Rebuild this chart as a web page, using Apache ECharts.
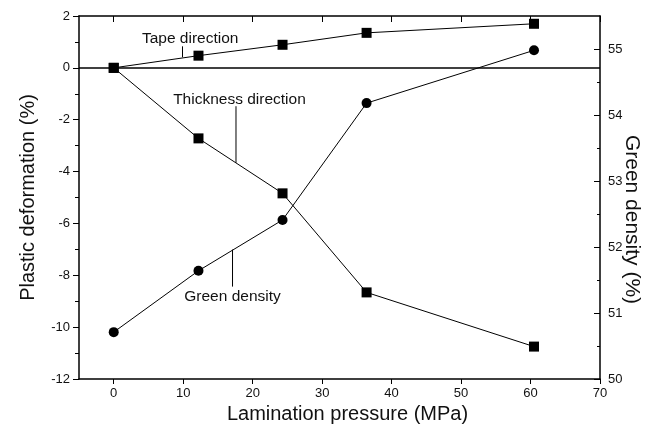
<!DOCTYPE html>
<html><head><meta charset="utf-8">
<script src="https://cdn.jsdelivr.net/npm/echarts@6/dist/echarts.min.js"></script>
<style>html,body{margin:0;padding:0;background:#fff}#c{width:652px;height:435px}</style>
</head><body><div id="c"></div>
<script>
// Data
const pressure = [0, 12.2, 24.3, 36.4, 60.5];
const tapeDirection = [0, 0.47, 0.89, 1.35, 1.7];
const thicknessDirection = [0, -2.72, -4.84, -8.66, -10.75];
const greenDensity = [50.71, 51.64, 52.41, 54.18, 54.98];
const xTicks = [0, 10, 20, 30, 40, 50, 60, 70];
const rightTicks = [50, 51, 52, 53, 54, 55];
const rightMinorTicks = [50.5, 51.5, 52.5, 53.5, 54.5];

const font = 'Liberation Sans, Arial, Helvetica, sans-serif';
const pairs = (ys) => pressure.map((x, i) => [x, ys[i]]);

const chart = echarts.init(document.getElementById('c'), null, {renderer: 'canvas'});
const lineStyleAxis = {color: '#000', width: 1.5};
chart.setOption({
  backgroundColor: '#fff',
  animation: false,
  grid: {left: 79, right: 52, top: 16, bottom: 56, containLabel: false, outerBoundsMode: 'none'},
  xAxis: [{
    type: 'value', min: -5, max: 70, position: 'bottom',
    name: 'Lamination pressure (MPa)', nameLocation: 'middle', nameGap: 24,
    nameTextStyle: {fontFamily: font, fontSize: 20, color: '#111', padding: [0, 0, 0, 16]},
    axisLine: {show: true, onZero: false, lineStyle: lineStyleAxis},
    axisTick: {show: true, inside: false, length: 5, customValues: xTicks, lineStyle: {color: '#000'}},
    axisLabel: {customValues: xTicks, fontFamily: font, fontSize: 13, color: '#111', margin: 8},
    splitLine: {show: false}
  }, {
    type: 'value', min: -5, max: 70, position: 'top',
    axisLine: {show: true, onZero: false, lineStyle: lineStyleAxis},
    axisTick: {show: true, inside: true, length: 6, customValues: xTicks, lineStyle: {color: '#000'}},
    axisLabel: {show: false},
    splitLine: {show: false}
  }],
  yAxis: [{
    type: 'value', min: -12, max: 2, interval: 2, position: 'left',
    name: 'Plastic deformation (%)', nameLocation: 'middle', nameGap: 41,
    nameTextStyle: {fontFamily: font, fontSize: 20, color: '#111'},
    axisLine: {show: true, onZero: false, lineStyle: lineStyleAxis},
    axisTick: {show: true, inside: false, length: 6, lineStyle: {color: '#000'}},
    minorTick: {show: true, splitNumber: 2, length: 4, lineStyle: {color: '#000'}},
    axisLabel: {fontFamily: font, fontSize: 13, color: '#111', margin: 9},
    splitLine: {show: false}, minorSplitLine: {show: false}
  }, {
    type: 'value', min: 50, max: 55.5, position: 'right',
    name: 'Green density (%)', nameLocation: 'middle', nameGap: 21, nameRotate: -90,
    nameMoveOverlap: false,
    nameTextStyle: {fontFamily: font, fontSize: 21, color: '#111', padding: [0, 0, 0, 44]},
    axisLine: {show: true, onZero: false, lineStyle: lineStyleAxis},
    axisTick: {show: true, inside: true, length: 6, customValues: rightTicks, lineStyle: {color: '#000'}},
    axisLabel: {customValues: rightTicks, fontFamily: font, fontSize: 13, color: '#111', margin: 8},
    splitLine: {show: false}
  }, {
    type: 'value', min: 50, max: 55.5, position: 'right',
    axisLine: {show: false, onZero: false},
    axisTick: {show: true, inside: true, length: 3, customValues: rightMinorTicks, lineStyle: {color: '#000'}},
    axisLabel: {show: false},
    splitLine: {show: false}
  }],
  series: [{
    name: 'Tape direction', type: 'line', xAxisIndex: 0, yAxisIndex: 0,
    data: pairs(tapeDirection), symbol: 'rect', symbolSize: 10,
    lineStyle: {color: '#000', width: 1}, itemStyle: {color: '#000'},
    markLine: {silent: true, symbol: 'none', label: {show: false},
      lineStyle: {color: '#000', width: 1.5, type: 'solid'}, data: [{yAxis: 0}]}
  }, {
    name: 'Thickness direction', type: 'line', xAxisIndex: 0, yAxisIndex: 0,
    data: pairs(thicknessDirection), symbol: 'rect', symbolSize: 10,
    lineStyle: {color: '#000', width: 1}, itemStyle: {color: '#000'}
  }, {
    name: 'Green density', type: 'line', xAxisIndex: 0, yAxisIndex: 1,
    data: pairs(greenDensity), symbol: 'circle', symbolSize: 10,
    lineStyle: {color: '#000', width: 1}, itemStyle: {color: '#000'}
  }]
});

// Annotation labels with leader lines, positioned in data coordinates
const notes = [
  {text: 'Tape direction', axis: 0, label: [11, 1.14], line: [[9.9, 0.41], [9.9, 0.83]]},
  {text: 'Thickness direction', axis: 0, label: [18.1, -1.21], line: [[17.6, -3.66], [17.6, -1.48]]},
  {text: 'Green density', axis: 1, label: [17.1, 51.25], line: [[17.1, 51.96], [17.1, 51.40]]}
];
const px = (pt, yi) => chart.convertToPixel({xAxisIndex: 0, yAxisIndex: yi}, pt);
const els = [];
notes.forEach(n => {
  const a = px(n.line[0], n.axis), b = px(n.line[1], n.axis), c = px(n.label, n.axis);
  els.push({type: 'line', shape: {x1: a[0], y1: a[1], x2: b[0], y2: b[1]}, style: {stroke: '#000', lineWidth: 1}});
  els.push({type: 'text', x: c[0], y: c[1], style: {text: n.text, fontFamily: font, fontSize: 15.5, fill: '#111', align: 'center', verticalAlign: 'middle'}});
});
chart.setOption({graphic: {elements: els}});
</script>
</body></html>
